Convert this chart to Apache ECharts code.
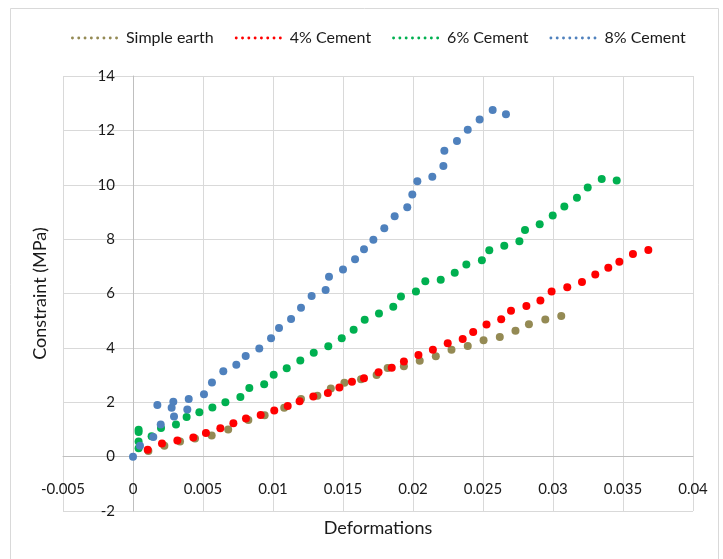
<!DOCTYPE html>
<html>
<head>
<meta charset="utf-8">
<script src="https://cdn.jsdelivr.net/npm/echarts@6/dist/echarts.min.js"></script>
<style>
html, body { margin: 0; padding: 0; background: #fff; }
#chart { width: 723px; height: 559px; }
</style>
</head>
<body>
<div id="chart"></div>
<script>
// series names
var seriesNames = ["Simple earth", "4% Cement", "6% Cement", "8% Cement"];
var seriesColors = ["#948A54", "#FF0000", "#00B050", "#4F81BD"];

// [deformation, constraint MPa]
var simpleEarth = [
	[0.0011, 0.21], [0.00224, 0.40], [0.00336, 0.56], [0.00443, 0.67], [0.00562, 0.78],
	[0.0068, 1.00], [0.00824, 1.35], [0.0094, 1.52], [0.0108, 1.80], [0.0120, 2.12],
	[0.01317, 2.24], [0.01413, 2.51], [0.0151, 2.72], [0.01629, 2.85], [0.0174, 3.00],
	[0.01819, 3.26], [0.01935, 3.32], [0.02048, 3.53], [0.02163, 3.69], [0.02275, 3.93],
	[0.02391, 4.07], [0.02504, 4.28], [0.0262, 4.40], [0.02732, 4.63], [0.02828, 4.87],
	[0.02945, 5.04], [0.03059, 5.17]
];
var cement4 = [
	[0.00105, 0.25], [0.00207, 0.48], [0.00317, 0.59], [0.00431, 0.70], [0.00521, 0.87],
	[0.00624, 1.04], [0.00717, 1.23], [0.00807, 1.40], [0.00912, 1.53], [0.01009, 1.70],
	[0.01105, 1.86], [0.0119, 2.04], [0.01288, 2.21], [0.01392, 2.34], [0.01474, 2.54],
	[0.01564, 2.75], [0.0165, 2.88], [0.01754, 3.10], [0.01848, 3.27], [0.01935, 3.50],
	[0.02039, 3.74], [0.02142, 3.93], [0.02248, 4.17], [0.02355, 4.33], [0.0243, 4.58],
	[0.02525, 4.86], [0.0263, 5.05], [0.0270, 5.37], [0.0281, 5.54], [0.0291, 5.74],
	[0.0299, 6.07], [0.03102, 6.23], [0.03207, 6.42], [0.03302, 6.70], [0.03395, 6.95],
	[0.03474, 7.17], [0.03571, 7.45], [0.03681, 7.60]
];
var cement6 = [
	[0.0004, 0.31], [0.0004, 0.56], [0.0004, 0.91], [0.0004, 0.99], [0.00133, 0.75],
	[0.0020, 1.05], [0.00307, 1.18], [0.00383, 1.46], [0.00474, 1.63], [0.00567, 1.81],
	[0.0066, 2.00], [0.00767, 2.19], [0.00831, 2.52], [0.00937, 2.66], [0.01005, 3.01],
	[0.01098, 3.25], [0.01195, 3.54], [0.01291, 3.82], [0.01395, 4.06], [0.01491, 4.35],
	[0.01576, 4.67], [0.01655, 5.03], [0.01757, 5.26], [0.01859, 5.51], [0.01914, 5.89],
	[0.02021, 6.07], [0.02088, 6.45], [0.02198, 6.51], [0.02298, 6.76], [0.02381, 7.07],
	[0.02492, 7.22], [0.02545, 7.59], [0.02652, 7.76], [0.0276, 7.92], [0.0280, 8.34],
	[0.02905, 8.55], [0.02998, 8.87], [0.03081, 9.20], [0.03171, 9.52], [0.03248, 9.90],
	[0.03348, 10.21], [0.03455, 10.16]
];
var cement8 = [
	[0, 0], [0.0005, 0.40], [0.00145, 0.72], [0.00198, 1.18], [0.00174, 1.90],
	[0.00293, 1.48], [0.00276, 1.80], [0.00288, 2.02], [0.00388, 1.73], [0.00398, 2.12],
	[0.00507, 2.29], [0.00564, 2.73], [0.00645, 3.14], [0.00738, 3.38], [0.00805, 3.70],
	[0.00902, 3.98], [0.00986, 4.35], [0.01043, 4.73], [0.01129, 5.06], [0.0120, 5.48],
	[0.01276, 5.91], [0.01376, 6.13], [0.0140, 6.62], [0.0150, 6.88], [0.01586, 7.26],
	[0.0165, 7.63], [0.01717, 7.98], [0.01795, 8.40], [0.01869, 8.84], [0.01959, 9.17],
	[0.01995, 9.64], [0.02031, 10.13], [0.02138, 10.29], [0.02217, 10.69], [0.02224, 11.25],
	[0.02314, 11.61], [0.02391, 12.02], [0.02476, 12.40], [0.02569, 12.75], [0.02664, 12.59]
];
var allData = [simpleEarth, cement4, cement6, cement8];

var xMin = -0.005, xMax = 0.04, xStep = 0.005;
var yMin = -2, yMax = 14, yStep = 2;

var font = "Lato";

// grid box
var gridLeft = 63, gridRight = 30, gridTop = 76, gridBottom = 48;
var plotW = 723 - gridLeft - gridRight, plotH = 559 - gridTop - gridBottom;
// move axes to the zero lines (Excel style crossing)
var yAxisShift = plotW * (0 - xMin) / (xMax - xMin);
var xAxisShift = plotH * (0 - yMin) / (yMax - yMin);

// dotted legend sample (8 small dots)
var dotPath = "path://";
for (var i = 0; i < 8; i++) {
	var cx = 1.5 + 6.5 * i;
	dotPath += "M" + (cx - 1.5) + ",1.5a1.5,1.5 0 1,0 3,0a1.5,1.5 0 1,0 -3,0Z";
}

var chart = echarts.init(document.getElementById("chart"));

var series = [];
var legendData = [];
for (var s = 0; s < seriesNames.length; s++) {
	legendData.push({ name: seriesNames[s], icon: dotPath });
	series.push({
		name: seriesNames[s],
		type: "scatter",
		data: allData[s],
		symbol: "circle",
		symbolSize: 8,
		itemStyle: { color: seriesColors[s], opacity: 1 },
		emphasis: { disabled: true }
	});
}

var option = {
	backgroundColor: "#fff",
	animation: false,
	textStyle: { fontFamily: font },
	graphic: [{
		type: "rect",
		shape: { x: 10.5, y: 8.5, width: 708, height: 600 },
		style: { fill: "none", stroke: "#d9d9d9", lineWidth: 1 },
		silent: true
	}],
	legend: {
		data: legendData,
		top: 25,
		left: 66,
		itemWidth: 47,
		itemHeight: 3,
		itemGap: 21,
		textStyle: { fontFamily: font, fontSize: 16, color: "#1a1a1a", padding: [0, 0, 0, 3] }
	},
	grid: {
		left: gridLeft, right: gridRight, top: gridTop, bottom: gridBottom,
		containLabel: false, outerBoundsMode: "none"
	},
	xAxis: {
		type: "value",
		position: "bottom",
		offset: -xAxisShift,
		min: xMin, max: xMax, interval: xStep,
		name: "Deformations",
		nameLocation: "middle",
		nameGap: 63,
		nameTextStyle: { fontFamily: font, fontSize: 18, color: "#1a1a1a" },
		axisLine: { onZero: false, lineStyle: { color: "#bfbfbf", width: 1 } },
		axisTick: { show: false },
		axisLabel: {
			margin: 25, fontFamily: font, fontSize: 15, color: "#1a1a1a",
			formatter: function(v) { return parseFloat(v.toFixed(3)).toString(); }
		},
		splitLine: { show: true, lineStyle: { color: "#d9d9d9", width: 1 } }
	},
	yAxis: {
		type: "value",
		position: "left",
		offset: -yAxisShift,
		min: yMin, max: yMax, interval: yStep,
		name: "Constraint (MPa)",
		nameLocation: "middle",
		nameGap: 84,
		nameTextStyle: { fontFamily: font, fontSize: 18, color: "#1a1a1a" },
		axisLine: { show: true, onZero: false, lineStyle: { color: "#bfbfbf", width: 1 } },
		axisTick: { show: false },
		axisLabel: { margin: 18, fontFamily: font, fontSize: 15, color: "#1a1a1a" },
		splitLine: { show: true, lineStyle: { color: "#d9d9d9", width: 1 } }
	},
	series: series
};

chart.setOption(option);
</script>
</body>
</html>
